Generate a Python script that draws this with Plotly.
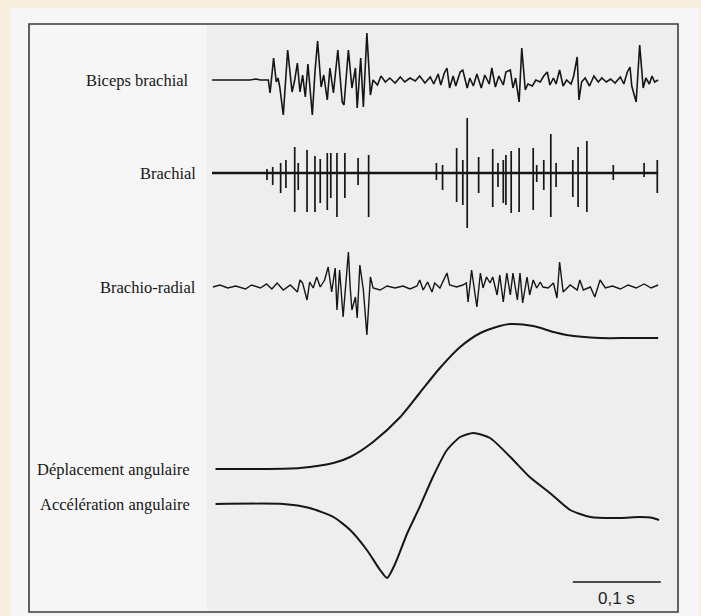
import plotly.graph_objects as go

# EMG recordings during elbow flexion, time in ms from start of recording,
# amplitudes in arbitrary units (positive = up)

BICEPS_T = [0, 43, 50, 55, 64, 66, 70, 73, 75, 77, 81, 86, 91, 94, 97, 100, 103, 106, 109, 114,
            117, 120, 124, 127, 131, 134, 138, 141, 143, 148, 150, 155, 159, 163, 165, 169, 172, 176, 180, 183,
            188, 192, 197, 202, 208, 214, 219, 225, 231, 236, 242, 248, 252, 257, 260, 264, 267, 270, 274, 277,
            282, 285, 290, 293, 297, 301, 306, 310, 315, 318, 322, 326, 331, 334, 339, 342, 345, 349, 352, 356,
            359, 364, 368, 373, 377, 381, 384, 388, 391, 395, 399, 403, 408, 411, 415, 417, 420, 424, 429, 434,
            439, 443, 448, 453, 458, 464, 468, 472, 475, 477, 482, 486, 490, 493, 497, 500, 503, 507]
BICEPS_A = [0, 0, 1, 0, 0, -13, 22, -2, 2, -7, -35, 30, -12, 0, 17, -12, 5, -17, 16, -35,
            8, 39, -7, 5, -20, 12, -13, 15, 30, -22, -25, 30, -8, 12, -28, 22, -27, 47, -15, 0,
            -5, 4, -2, 2, -3, 3, -2, 2, -1, 4, -3, 3, -4, 6, -5, 7, 12, -8, 4, -6,
            8, 10, -8, 2, -6, 6, -8, 5, -4, 12, -7, 4, -5, 8, 10, -8, 2, -22, 32, -10,
            -4, -6, 0, -2, 4, 8, -5, 2, -4, 10, -6, 0, -4, 4, 23, -20, -2, 2, -6, 4,
            -2, 2, -2, 1, -3, 3, -4, 8, 13, -6, -22, 35, -8, 2, -4, 4, -2, 0]

# brachial: isolated motor unit spikes (time, peak up, peak down)
BRACHIAL_T = [62.5, 69, 78, 84, 94, 98, 108, 117, 123, 131, 135, 142, 151, 166, 178, 255, 262, 278, 285, 290,
              303, 319, 325, 331, 334, 340, 349, 365, 369, 377, 385, 391, 410, 416, 426, 456, 491, 506]
BRACHIAL_UP = [4, 6, 10, 13, 26, 10, 23, 17, 14, 20, 20, 20, 20, 15, 18, 10, 8, 25, 13, 55,
               16, 24, 10, 13, 18, 22, 25, 25, 8, 13, 39, 10, 13, 26, 32, 8, 10, 13]
BRACHIAL_DOWN = [-7, -12, -20, -15, -39, -17, -39, -39, -30, -37, -25, -44, -25, -12, -44, -7, -17, -29, -32, -55,
                 -20, -34, -14, -30, -32, -40, -39, -37, -9, -17, -44, -14, -24, -34, -39, -7, -4, -20]
BRACHIAL_SPAN = [0, 507]

BRACHIO_T = [1, 9, 18, 27, 38, 45, 55, 62, 68, 74, 81, 89, 97, 100, 103, 108, 111, 115, 119, 123,
             128, 132, 136, 140, 142, 145, 149, 155, 157, 159, 163, 165, 168, 172, 176, 180, 183, 191, 199, 208,
             217, 225, 233, 236, 240, 245, 250, 253, 259, 267, 270, 278, 285, 289, 291, 295, 301, 305, 308, 312,
             316, 319, 324, 327, 331, 335, 339, 342, 347, 350, 353, 358, 361, 365, 369, 373, 376, 382, 388, 392,
             395, 399, 407, 415, 418, 422, 430, 435, 441, 447, 455, 464, 473, 482, 491, 499, 507]
BRACHIO_A = [0, 2, -1, 1, -2, 2, -1, 3, -2, 4, -3, 2, -5, 7, 4, -13, 5, -1, 10, 0,
             7, 20, -5, 19, -23, 17, -30, 35, 0, -23, -10, -31, 22, -3, -48, 10, -1, -3, 1, -1,
             1, -2, 1, 7, -3, 5, -5, 4, -1, 14, 2, 0, 2, 4, -15, 17, -20, 14, -1, 10,
             4, 10, -8, 12, -15, 14, -8, 14, -13, 14, -16, 10, -8, 7, -1, 5, 0, -1, 4, -11,
             25, -5, 2, -3, 7, -3, 0, -10, 7, -1, 1, -2, 2, -1, 3, -1, 2]

DISP_T = [4, 55, 100, 138, 157, 183, 214, 236, 259, 282, 305, 327, 339, 365, 388, 403, 441, 475, 507]
DISP_A = [0, 0, 1, 6, 12, 27, 52, 76, 101, 122, 136, 143, 145, 143, 137, 134, 131, 131, 131]

ACC_T = [4, 81, 111, 138, 157, 176, 191, 199, 208, 222, 236, 251, 267, 282, 297, 316, 339, 361, 384,
         407, 430, 464, 486, 501, 508]
ACC_A = [0, 0, -4, -13, -26, -46, -66, -74, -60, -29, -3, 27, 54, 67, 71, 66, 47, 27, 11,
         -6, -13, -14, -13, -14, -16]

LABELS = ["Biceps brachial", "Brachial", "Brachio-radial", "Déplacement angulaire", "Accélération angulaire"]
SCALE_BAR_MS = 100
SCALE_BAR_START = 410
SCALE_LABEL = "0,1 s"

assert len(BICEPS_T) == len(BICEPS_A)
assert len(BRACHIAL_T) == len(BRACHIAL_UP) == len(BRACHIAL_DOWN)
assert len(BRACHIO_T) == len(BRACHIO_A)

W, H = 701, 616
PX_PER_MS = 0.88
T0_PX = 212
# row baselines (plot units, y up)
BASE = [536, 443, 329, 147, 112]
LABEL_RIGHT = [191, 198, 198, 192, 192]

INK = "#161616"

fig = go.Figure()

def add_line(x, y, width, shape="linear", smoothing=None):
    line = dict(color=INK, width=width, shape=shape)
    if smoothing is not None:
        line["smoothing"] = smoothing
    fig.add_trace(go.Scatter(x=x, y=y, mode="lines", line=line,
                             hoverinfo="skip", showlegend=False))

# biceps
add_line(BICEPS_T, [BASE[0] + a for a in BICEPS_A], 1.6)

# brachial: thick baseline + vertical spikes
add_line(BRACHIAL_SPAN, [BASE[1], BASE[1]], 2.6)
sx, sy = [], []
for t, up, dn in zip(BRACHIAL_T, BRACHIAL_UP, BRACHIAL_DOWN):
    sx += [t, t, None]
    sy += [BASE[1] + dn, BASE[1] + up, None]
add_line(sx, sy, 1.7)

# brachio-radial
add_line(BRACHIO_T, [BASE[2] + a for a in BRACHIO_A], 1.4)

# angular displacement / acceleration
add_line(DISP_T, [BASE[3] + a for a in DISP_A], 2.0, "spline", 0.8)
add_line(ACC_T, [BASE[4] + a for a in ACC_A], 2.0, "spline", 0.6)

# scale bar
add_line([SCALE_BAR_START, SCALE_BAR_START + SCALE_BAR_MS], [34, 34], 1.5)

annotations = []
for lab, b, xr in zip(LABELS, BASE, LABEL_RIGHT):
    annotations.append(dict(x=xr / W, xref="paper", y=b, yref="y", text=lab,
                            showarrow=False, xanchor="right", yanchor="middle",
                            font=dict(family="Liberation Serif", size=16.5, color=INK)))
annotations.append(dict(x=SCALE_BAR_START + SCALE_BAR_MS / 2, y=18, xref="x", yref="y",
                        text=SCALE_LABEL, showarrow=False,
                        font=dict(family="Liberation Sans", size=17, color="#1e1e1e")))

shapes = [
    # paper sheet
    dict(type="rect", xref="paper", yref="paper", x0=11 / W, x1=699 / W, y0=0, y1=1 - 8 / H,
         fillcolor="#f6f6f6", line=dict(width=0), layer="below"),
    # slightly grey scanned area on the right
    dict(type="rect", xref="paper", yref="paper", x0=207 / W, x1=678 / W, y0=1 - 612 / H, y1=1 - 25 / H,
         fillcolor="#eeeeee", line=dict(width=0), layer="below"),
    # frame
    dict(type="rect", xref="paper", yref="paper", x0=29 / W, x1=678 / W, y0=1 - 612 / H, y1=1 - 24 / H,
         fillcolor="rgba(0,0,0,0)", line=dict(color="#3c3c3c", width=1.6), layer="below"),
]

fig.update_layout(
    width=W, height=H, autosize=False,
    margin=dict(l=0, r=0, t=0, b=0),
    paper_bgcolor="#f6eedf", plot_bgcolor="rgba(0,0,0,0)",
    xaxis=dict(range=[-T0_PX / PX_PER_MS, (W - T0_PX) / PX_PER_MS], visible=False, fixedrange=True),
    yaxis=dict(range=[0, H], visible=False, fixedrange=True),
    annotations=annotations, shapes=shapes,
)

fig.write_html("out.html", config={"displayModeBar": False},
               post_script="document.body.style.margin='0';")
